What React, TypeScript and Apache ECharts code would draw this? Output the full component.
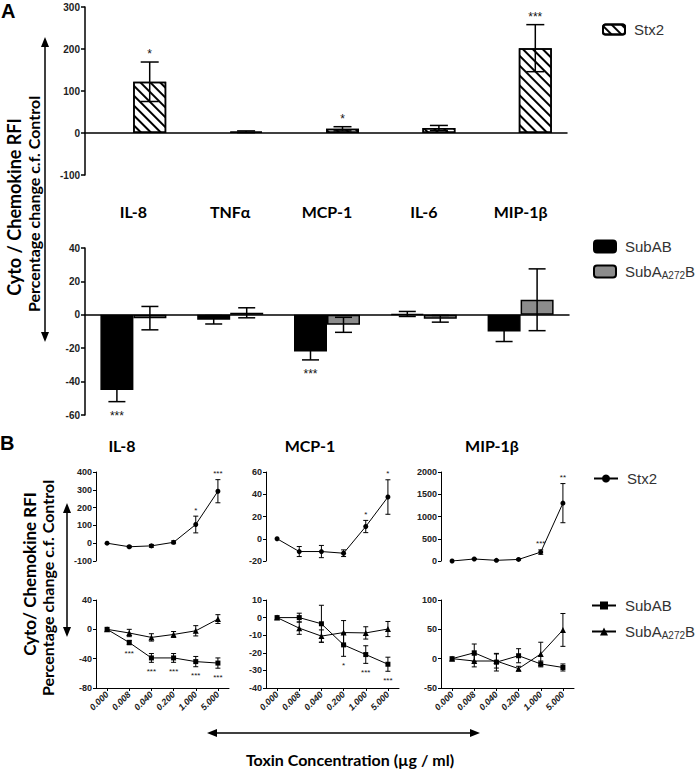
import React, { useEffect, useRef } from 'react';
import * as echarts from 'echarts';

// ---------- Panel A data ----------
const cytokines = ['IL-8', 'TNFα', 'MCP-1', 'IL-6', 'MIP-1β'];
const stx2Mean = [122, 3, 10, 12, 202];
const stx2Err = [47, 2, 5, 6, 56];
const stx2Sig = ['*', '', '*', '', '***'];
const subABMean = [-45, -3, -22, 0.5, -10];
const subABErr = [7, 2.5, 5, 1.5, 6];
const subABSig = ['***', '', '***', '', ''];
const mutMean = [-2, 1.2, -6, -2.4, 9];
const mutErr = [7, 3, 4.5, 2, 18.5];
const mutSig = ['', '', '', '', ''];

// ---------- Panel B data ----------
const doses = ['0.000', '0.008', '0.040', '0.200', '1.000', '5.000'];
const bTitles = ['IL-8', 'MCP-1', 'MIP-1β'];

const il8Stx2 = [0, -20, -15, 5, 105, 292];
const il8Stx2Err = [0, 5, 8, 8, 47, 65];
const il8Stx2Sig = ['', '', '', '', '*', '***'];
const il8SubAB = [0, -18, -39, -39, -44, -46];
const il8SubABErr = [0, 3, 6, 6, 7, 7];
const il8SubABSig = ['', '***', '***', '***', '***', '***'];
const il8Mut = [0, -5, -11, -7, -2, 14];
const il8MutErr = [0, 5, 5, 4, 7, 6];

const mcpStx2 = [0, -11.5, -11.5, -13, 11, 37.5];
const mcpStx2Err = [0, 4.5, 5.5, 3, 5.5, 15.5];
const mcpStx2Sig = ['', '', '', '', '*', '*'];
const mcpSubAB = [0, 0, -3.5, -15.5, -21, -26.5];
const mcpSubABErr = [0, 2.5, 10.5, 6.5, 5, 4];
const mcpSubABSig = ['', '', '', '*', '***', '***'];
const mcpMut = [0, -6, -10.5, -8.5, -8.7, -6.5];
const mcpMutErr = [0, 3.5, 3.5, 6.8, 3.5, 4.3];

const mipStx2 = [0, 45, 15, 35, 200, 1300];
const mipStx2Err = [0, 10, 10, 10, 50, 440];
const mipStx2Sig = ['', '', '', '', '***', '**'];
const mipSubAB = [0, 10, -6, 5, -9, -15];
const mipSubABErr = [0, 15, 15, 12, 5, 6];
const mipSubABSig = ['', '', '', '', '', ''];
const mipMut = [0, -4, -4, -17, 8, 49];
const mipMutErr = [0, 10, 12, 4, 20, 28];
const noSig = ['', '', '', '', '', ''];

const bTopRanges = [
  { min: -100, max: 400, interval: 100 },
  { min: -20, max: 60, interval: 20 },
  { min: 0, max: 2000, interval: 500 },
];
const bBottomRanges = [
  { min: -80, max: 40, interval: 40 },
  { min: -40, max: 10, interval: 10 },
  { min: -50, max: 100, interval: 50 },
];

const bStx2 = [
  [il8Stx2, il8Stx2Err, il8Stx2Sig],
  [mcpStx2, mcpStx2Err, mcpStx2Sig],
  [mipStx2, mipStx2Err, mipStx2Sig],
];
const bSubAB = [
  [il8SubAB, il8SubABErr, il8SubABSig],
  [mcpSubAB, mcpSubABErr, mcpSubABSig],
  [mipSubAB, mipSubABErr, mipSubABSig],
];
const bMut = [
  [il8Mut, il8MutErr, noSig],
  [mcpMut, mcpMutErr, noSig],
  [mipMut, mipMutErr, noSig],
];

const BOLD = 'Lato, "Open Sans", sans-serif';
const ARIAL = '"Liberation Sans", Arial, sans-serif';

function errRender(dx: number, cap: number, lw: number, stars: string[], starSize: number, offBelow: number) {
  return (params: any, api: any) => {
    const i = api.value(0);
    const v = api.value(1);
    const e = api.value(2);
    const c = api.coord([i, v]);
    const t = api.coord([i, v + e]);
    const b = api.coord([i, v - e]);
    const x = c[0] + dx;
    const children: any[] = [];
    if (e > 0) {
      const st = { stroke: '#000', lineWidth: lw };
      children.push({ type: 'line', shape: { x1: x, y1: t[1], x2: x, y2: b[1] }, style: st });
      children.push({ type: 'line', shape: { x1: x - cap, y1: t[1], x2: x + cap, y2: t[1] }, style: st });
      children.push({ type: 'line', shape: { x1: x - cap, y1: b[1], x2: x + cap, y2: b[1] }, style: st });
    }
    const s = stars[params.dataIndex];
    if (s) {
      const below = v < 0;
      children.push({
        type: 'text',
        style: {
          text: s,
          x,
          y: below ? b[1] + offBelow : t[1] - 2,
          align: 'center',
          verticalAlign: below ? 'top' : 'bottom',
          fontSize: starSize,
          fontFamily: ARIAL,
          fill: '#111',
        },
      });
    }
    return { type: 'group', children };
  };
}

function errData(mean: number[], err: number[]) {
  return mean.map((m, i) => [i, m, err[i]]);
}

function arrowV(x: number, y1: number, y2: number) {
  return [
    { type: 'line', shape: { x1: x, y1: y1 + 6, x2: x, y2: y2 - 6 }, style: { stroke: '#000', lineWidth: 1.5 } },
    { type: 'polygon', shape: { points: [[x, y1], [x - 4, y1 + 10], [x + 4, y1 + 10]] }, style: { fill: '#000' } },
    { type: 'polygon', shape: { points: [[x, y2], [x - 4, y2 - 10], [x + 4, y2 - 10]] }, style: { fill: '#000' } },
  ];
}
function arrowH(y: number, x1: number, x2: number) {
  return [
    { type: 'line', shape: { x1: x1 + 6, y1: y, x2: x2 - 6, y2: y }, style: { stroke: '#000', lineWidth: 1.5 } },
    { type: 'polygon', shape: { points: [[x1, y], [x1 + 10, y - 4], [x1 + 10, y + 4]] }, style: { fill: '#000' } },
    { type: 'polygon', shape: { points: [[x2, y], [x2 - 10, y - 4], [x2 - 10, y + 4]] }, style: { fill: '#000' } },
  ];
}
function vText(text: string, x: number, y: number, size: number) {
  return {
    type: 'text',
    x,
    y,
    rotation: Math.PI / 2,
    style: { text, x: 0, y: 0, align: 'center', verticalAlign: 'middle', fontSize: size, fontWeight: 'bold', fontFamily: BOLD, fill: '#000' },
  };
}
function hText(text: string, x: number, y: number, size: number, family = BOLD) {
  return {
    type: 'text',
    style: { text, x, y, align: 'center', verticalAlign: 'middle', fontSize: size, fontWeight: 'bold', fontFamily: family, fill: '#000' },
  };
}

export default function App() {
  const ref = useRef<HTMLDivElement>(null);
  useEffect(() => {
    if (!ref.current) return;
    const chart = echarts.init(ref.current, undefined, { renderer: 'svg' });

    const plain = (v: number) => String(v);
    const yLabel = { fontWeight: 'bold', fontSize: 10, fontFamily: ARIAL, color: '#222', margin: 5, formatter: plain };
    const yLabelB = { fontWeight: 'bold', fontSize: 9, fontFamily: ARIAL, color: '#222', margin: 4, formatter: plain };
    const axisLineA = { show: true, lineStyle: { color: '#000', width: 1.5 } };
    const axisLineB = { show: true, lineStyle: { color: '#000', width: 1 } };

    const bLefts = [96, 266, 441];
    const grids: any[] = [
      { left: 85, top: 7, width: 482, height: 168 },
      { left: 85, top: 248, width: 484, height: 167 },
    ];
    bLefts.forEach((l) => grids.push({ left: l, top: 472, width: 133, height: 89 }));
    bLefts.forEach((l) => grids.push({ left: l, top: 600, width: 133, height: 88 }));

    const xAxes: any[] = [
      { type: 'category', gridIndex: 0, data: cytokines, axisLine: { onZero: true, lineStyle: { color: '#000', width: 1.5 } }, axisTick: { show: false }, axisLabel: { show: false } },
      { type: 'category', gridIndex: 1, data: cytokines, axisLine: { onZero: true, lineStyle: { color: '#000', width: 1.5 } }, axisTick: { show: false }, axisLabel: { show: false } },
      {
        type: 'category', gridIndex: 1, data: cytokines, position: 'top',
        axisLine: { show: false }, axisTick: { show: false },
        axisLabel: { fontWeight: 'bold', fontSize: 16, fontFamily: BOLD, color: '#000', margin: 29 },
      },
    ];
    for (let p = 0; p < 3; p++) {
      xAxes.push({ type: 'category', gridIndex: 2 + p, data: doses, show: false });
    }
    for (let p = 0; p < 3; p++) {
      xAxes.push({
        type: 'category', gridIndex: 5 + p, data: doses,
        axisLine: { onZero: false, lineStyle: { color: '#000', width: 1 } },
        axisTick: { show: true, length: 3, alignWithLabel: true, lineStyle: { color: '#000' } },
        axisLabel: { rotate: 45, fontWeight: 'bold', fontStyle: 'italic', fontSize: 9, fontFamily: ARIAL, color: '#222', margin: 5, interval: 0 },
      });
    }

    const yAxes: any[] = [
      { type: 'value', gridIndex: 0, min: -100, max: 300, interval: 100, splitLine: { show: false }, axisLine: axisLineA, axisTick: { show: true, length: 4, lineStyle: { color: '#000', width: 1.5 } }, axisLabel: yLabel },
      { type: 'value', gridIndex: 1, min: -60, max: 40, interval: 20, splitLine: { show: false }, axisLine: axisLineA, axisTick: { show: true, length: 4, lineStyle: { color: '#000', width: 1.5 } }, axisLabel: yLabel },
    ];
    bTopRanges.forEach((r, p) =>
      yAxes.push({ type: 'value', gridIndex: 2 + p, ...r, splitLine: { show: false }, axisLine: axisLineB, axisTick: { show: true, length: 3, lineStyle: { color: '#000' } }, axisLabel: yLabelB })
    );
    bBottomRanges.forEach((r, p) =>
      yAxes.push({ type: 'value', gridIndex: 5 + p, ...r, splitLine: { show: false }, axisLine: axisLineB, axisTick: { show: true, length: 3, lineStyle: { color: '#000' } }, axisLabel: yLabelB })
    );

    const hatch = {
      symbol: 'rect',
      symbolSize: 1,
      dashArrayX: [1, 0],
      dashArrayY: [1.3, 4.2],
      rotation: Math.PI / 4,
      color: '#000',
    };

    const series: any[] = [
      { type: 'bar', name: 'blank', xAxisIndex: 0, yAxisIndex: 0, data: cytokines.map(() => '-'), barWidth: 33, barGap: '0%' },
      {
        type: 'bar', name: 'Stx2', xAxisIndex: 0, yAxisIndex: 0, data: stx2Mean, barWidth: 33, barGap: '0%',
        itemStyle: { color: '#fff', borderColor: '#000', borderWidth: 1.5, decal: hatch },
      },
      { type: 'custom', xAxisIndex: 0, yAxisIndex: 0, z: 5, renderItem: errRender(16.5, 9, 1.5, stx2Sig, 12, 8), data: errData(stx2Mean, stx2Err) },
      {
        type: 'bar', name: 'SubAB', xAxisIndex: 1, yAxisIndex: 1, data: subABMean, barWidth: 33, barGap: '0%',
        itemStyle: { color: '#000', borderColor: '#000', borderWidth: 1.5 },
      },
      {
        type: 'bar', name: 'SubA272B', xAxisIndex: 1, yAxisIndex: 1, data: mutMean, barWidth: 33, barGap: '0%',
        itemStyle: { color: '#8c8c8c', borderColor: '#000', borderWidth: 1.5 },
      },
      { type: 'custom', xAxisIndex: 1, yAxisIndex: 1, z: 5, renderItem: errRender(-16.5, 8.5, 1.5, subABSig, 12, 8), data: errData(subABMean, subABErr) },
      { type: 'custom', xAxisIndex: 1, yAxisIndex: 1, z: 5, renderItem: errRender(16.5, 8.5, 1.5, mutSig, 12, 8), data: errData(mutMean, mutErr) },
    ];

    const lineBase = { type: 'line', itemStyle: { color: '#000' }, lineStyle: { color: '#000', width: 1 }, z: 4 };
    for (let p = 0; p < 3; p++) {
      const [m, e, s] = bStx2[p] as [number[], number[], string[]];
      series.push({ ...lineBase, name: 'Stx2-line', xAxisIndex: 3 + p, yAxisIndex: 2 + p, data: m, symbol: 'circle', symbolSize: 5 });
      series.push({ type: 'custom', xAxisIndex: 3 + p, yAxisIndex: 2 + p, z: 5, renderItem: errRender(0, 2.5, 1, s, 8, 5), data: errData(m, e) });
      const [m2, e2, s2] = bSubAB[p] as [number[], number[], string[]];
      series.push({ ...lineBase, name: 'SubAB-line', xAxisIndex: 6 + p, yAxisIndex: 5 + p, data: m2, symbol: 'rect', symbolSize: 5 });
      series.push({ type: 'custom', xAxisIndex: 6 + p, yAxisIndex: 5 + p, z: 5, renderItem: errRender(0, 2.5, 1, s2, 8, 5), data: errData(m2, e2) });
      const [m3, e3, s3] = bMut[p] as [number[], number[], string[]];
      series.push({ ...lineBase, name: 'SubA272B-line', xAxisIndex: 6 + p, yAxisIndex: 5 + p, data: m3, symbol: 'triangle', symbolSize: 6 });
      series.push({ type: 'custom', xAxisIndex: 6 + p, yAxisIndex: 5 + p, z: 5, renderItem: errRender(0, 2.5, 1, s3, 8, 5), data: errData(m3, e3) });
    }

    const legendText = {
      fontFamily: ARIAL,
      fontSize: 15,
      color: '#333',
      padding: [0, 0, 0, 4],
      rich: {
        n: { fontFamily: ARIAL, fontSize: 15, color: '#333' },
        s: { fontFamily: ARIAL, fontSize: 10, color: '#333', padding: [7, 0, 0, 0] },
      },
    };
    const fmt = (name: string) => {
      const base = name.replace('-line', '');
      if (base === 'SubA272B') return '{n|SubA}{s|A272}{n|B}';
      return '{n|' + base + '}';
    };

    const graphics: any[] = [
      { type: 'text', style: { text: 'A', x: 1, y: 1, fontSize: 20, fontWeight: 'bold', fontFamily: ARIAL, fill: '#000' } },
      { type: 'text', style: { text: 'B', x: 0, y: 433, fontSize: 20, fontWeight: 'bold', fontFamily: ARIAL, fill: '#000' } },
      vText('Cyto / Chemokine RFI', 14, 207, 18),
      vText('Percentage change c.f. Control', 33, 204, 16),
      ...arrowV(45, 37, 342),
      vText('Cyto/ Chemokine RFI', 29, 574, 17),
      vText('Percentage change c.f. Control', 47, 588, 16),
      ...arrowV(67, 503, 637),
      hText(bTitles[0], 122, 445, 16),
      hText(bTitles[1], 310, 445, 16),
      hText(bTitles[2], 492, 445, 16),
      ...arrowH(733, 207, 480),
      hText('Toxin Concentration (µg / ml)', 350, 759, 16),
    ];

    chart.setOption({
      animation: false,
      backgroundColor: '#fff',
      grid: grids,
      xAxis: xAxes,
      yAxis: yAxes,
      legend: [
        { data: ['Stx2'], left: 597, top: 17, itemWidth: 22, itemHeight: 10, selectedMode: false, formatter: fmt, textStyle: legendText },
        { data: ['SubAB', 'SubA272B'], orient: 'vertical', left: 588, top: 234, itemWidth: 22, itemHeight: 12, itemGap: 10, selectedMode: false, formatter: fmt, textStyle: legendText },
        { data: ['Stx2-line'], left: 588, top: 466, itemWidth: 24, itemHeight: 10, selectedMode: false, formatter: fmt, textStyle: legendText },
        { data: ['SubAB-line', 'SubA272B-line'], orient: 'vertical', left: 586, top: 593, itemWidth: 24, itemHeight: 10, itemGap: 11, selectedMode: false, formatter: fmt, textStyle: legendText },
      ],
      series,
      graphic: graphics,
    });
    return () => chart.dispose();
  }, []);
  return <div ref={ref} style={{ position: 'absolute', left: 0, top: 0, width: 696, height: 770 }} />;
}
